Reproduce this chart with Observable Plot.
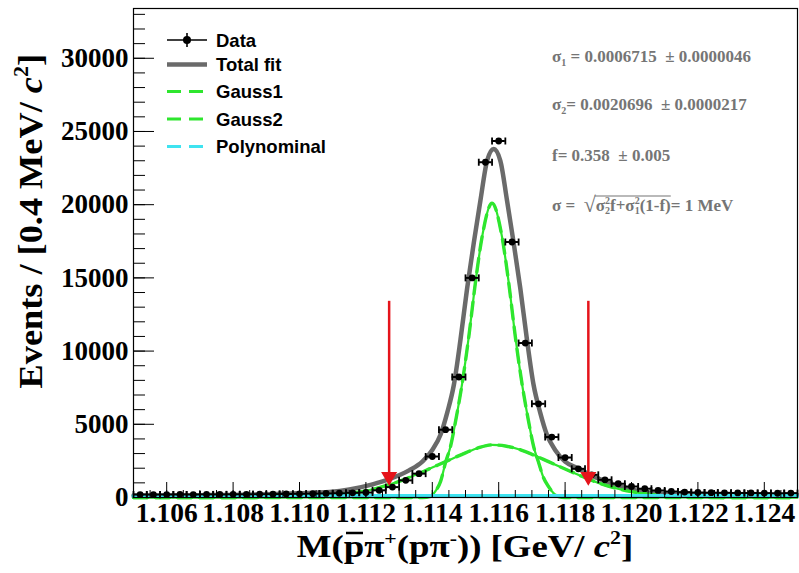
<!DOCTYPE html>
<html><head><meta charset="utf-8">
<script src="https://cdn.jsdelivr.net/npm/d3@7"></script>
<script src="https://cdn.jsdelivr.net/npm/@observablehq/plot@0.6"></script>
<style>
html,body{margin:0;padding:0;background:#fff;}
#chart svg{display:block;}
</style></head><body><div id="chart"></div>
<script>
// ---- data ----
const binCenters = [1.1052,1.1056,1.1060,1.1064,1.1068,1.1072,1.1076,1.1080,1.1084,1.1088,
  1.1092,1.1096,1.1100,1.1104,1.1108,1.1112,1.1116,1.1120,1.1124,1.1128,
  1.1132,1.1136,1.1140,1.1144,1.1148,1.1152,1.1156,1.1160,1.1164,1.1168,
  1.1172,1.1176,1.1180,1.1184,1.1188,1.1192,1.1196,1.1200,1.1204,1.1208,
  1.1212,1.1216,1.1220,1.1224,1.1228,1.1232,1.1236,1.1240,1.1244,1.1248];
const events = [200,195,200,205,200,210,205,215,215,225,
  230,240,250,260,275,290,320,340,490,710,
  1170,1630,2800,4630,8230,15000,22900,24350,17450,10550,
  6400,4130,2730,1960,1550,1210,940,750,600,480,
  410,370,340,330,320,310,310,300,290,300];

const fitX = [1.1050,1.1070,1.1090,1.1100,1.1109,1.1115,1.1122,1.1127,1.1133,1.1137,1.1140,1.11425,
  1.11445,1.11465,1.11485,1.11505,1.11525,1.11545,1.11565,1.11585,1.11605,1.11625,1.11645,1.11665,
  1.11685,1.11705,1.11725,1.11745,1.1177,1.1180,1.1184,1.1187,1.1194,1.1201,1.1209,1.1220,1.1250];
const fitY = [140,160,220,290,380,550,900,1250,1850,2450,3250,4300,
  5800,7700,10800,14300,17400,20300,23000,23800,23000,20300,17400,14300,
  10800,7700,5800,4300,3250,2450,1990,1600,950,500,260,190,150];

const gauss1X = [1.1050,1.1137,1.11395,1.1141,1.11425,1.1144,1.11455,1.1147,1.1149,1.1151,1.1153,1.1155,
  1.1158,1.1161,1.1163,1.1165,1.1167,1.1169,1.11705,1.1172,1.11735,1.1175,1.11765,1.1178,1.1180,1.1250];
const gauss1Y = [0,0,80,450,1100,2400,3500,5200,7800,11000,14700,17800,
  20100,17800,14700,11000,7800,5200,3500,2400,1350,750,300,60,0,0];

const gauss2X = [1.1050,1.1080,1.1090,1.1100,1.1105,1.1110,1.1115,1.1120,1.1125,1.1130,1.1135,1.1140,
  1.1145,1.1150,1.1154,1.1158,1.1162,1.1166,1.1170,1.1175,1.1180,1.1185,1.1190,1.1195,1.1200,1.1205,
  1.1210,1.1215,1.1220,1.1230,1.1250];
const gauss2Y = [0,0,10,40,80,150,270,450,740,1100,1550,2050,
  2550,3050,3400,3600,3520,3300,2950,2450,1950,1450,1000,650,400,230,
  120,60,25,0,0];

const polyX = [1.1050,1.1250];
const polyY = [100,100];

const cutX = [1.1127,1.1187];
const cutTop = [13400,13400];
const cutTip = [950,950];

const xTickValues = [1.106,1.108,1.110,1.112,1.114,1.116,1.118,1.120,1.122,1.124];
const yTickValues = [0,5000,10000,15000,20000,25000,30000];
const legendLabels = ["Data","Total fit","Gauss1","Gauss2","Polynominal"];
const paramValues = ["0.0006715","0.0000046","0.0020696","0.0000217","0.358","0.005"];

// ---- layout / style ----
const W = 799, H = 573, mL = 133, mR = 2, mT = 8, mB = 76;
const xDomain = [1.105, 1.125], yDomain = [0, 33400];
const pxX = (xDomain[1]-xDomain[0])/(W-mL-mR);
const pxY = (yDomain[1]-yDomain[0])/(H-mT-mB);
const GREEN = "#2ee62e", CYAN = "#3fe3f0", GRAY = "#6a6a6a", RED = "#e5141b";
const SERIF = "Liberation Serif, Times New Roman, serif";
const SANS = "Liberation Sans, Arial, sans-serif";

const data = binCenters.map((m,i)=>({m, n: events[i]}));
const fit = fitX.map((x,i)=>({x, y: fitY[i]}));
const g1 = gauss1X.map((x,i)=>({x, y: gauss1Y[i]}));
const g2 = gauss2X.map((x,i)=>({x, y: gauss2Y[i]}));
const poly = polyX.map((x,i)=>({x, y: polyY[i]}));
const cuts = cutX.map((x,i)=>({x, top: cutTop[i], tip: cutTip[i]}));
const halfBin = 0.0002;
const xMinor = d3.range(0, 41).map(k => xDomain[0] + k*0.0005);
const yMinor = d3.range(0, 34).map(k => k*1000);

const vbar = {draw(ctx, size){ const h = Math.sqrt(size/Math.PI); ctx.moveTo(0,-h); ctx.lineTo(0,h); }};

const plot = Plot.plot({
  width: W, height: H,
  marginLeft: mL, marginRight: mR, marginTop: mT, marginBottom: mB,
  x: {domain: xDomain, label: null},
  y: {domain: yDomain, label: null},
  style: {background: "white", fontFamily: SERIF, overflow: "visible"},
  marks: [
    Plot.line(fit, {x:"x", y:"y", stroke: GRAY, strokeWidth: 4.5, curve: "monotone-x"}),
    Plot.line(g2, {x:"x", y:"y", stroke: GREEN, strokeWidth: 2.2, curve: "monotone-x"}),
    Plot.line(g2, {x:"x", y:"y", stroke: GREEN, strokeWidth: 3.4, strokeDasharray: "14,8", curve: "monotone-x"}),
    Plot.line(g1, {x:"x", y:"y", stroke: GREEN, strokeWidth: 2.2, curve: "monotone-x"}),
    Plot.line(g1, {x:"x", y:"y", stroke: GREEN, strokeWidth: 3.4, strokeDasharray: "14,8", curve: "monotone-x"}),
    Plot.line(poly, {x:"x", y:"y", stroke: CYAN, strokeWidth: 4}),
    Plot.ruleY(data, {y:"n", x1: d=>d.m-halfBin, x2: d=>d.m+halfBin, stroke:"black", strokeWidth: 2}),
    Plot.ruleX(data, {x:"m", y1: d=>d.n-Math.sqrt(d.n), y2: d=>d.n+Math.sqrt(d.n), stroke:"black", strokeWidth: 2}),
    Plot.dot(data, {x: d=>d.m-halfBin, y:"n", symbol: vbar, r: 3.5, stroke:"black", strokeWidth: 1.8, fill:"none"}),
    Plot.dot(data, {x: d=>d.m+halfBin, y:"n", symbol: vbar, r: 3.5, stroke:"black", strokeWidth: 1.8, fill:"none"}),
    Plot.dot(data, {x:"m", y:"n", r: 3.4, fill:"black", stroke: "none"}),
    Plot.ruleX(cuts, {x:"x", y1:"tip", y2:"top", stroke: RED, strokeWidth: 2.5}),
    Plot.dot(cuts, {x:"x", y:"tip", symbol:"triangle", rotate: 180, r: 5, fill: RED, stroke: RED, dy: -7}),
    Plot.ruleX(xMinor, {x: d=>d, y1: 0, y2: 7*pxY, stroke:"black", strokeWidth: 1}),
    Plot.ruleX(xTickValues, {x: d=>d, y1: 0, y2: 15*pxY, stroke:"black", strokeWidth: 1}),
    Plot.ruleY(yMinor, {y: d=>d, x1: xDomain[0], x2: xDomain[0]+12*pxX, stroke:"black", strokeWidth: 1}),
    Plot.ruleY(yTickValues, {y: d=>d, x1: xDomain[0], x2: xDomain[0]+21*pxX, stroke:"black", strokeWidth: 1}),
    Plot.frame({stroke:"black", strokeWidth: 1.2}),
    Plot.axisX(xTickValues, {tickSize: 0, tickPadding: 5, tickFormat: d3.format(".3f"), fontSize: 27.5, fontWeight: "bold", fontFamily: SERIF, fill: "black"}),
    Plot.axisY(yTickValues, {tickSize: 0, tickPadding: 5, tickFormat: d => String(d), fontSize: 27, fontWeight: "bold", fontFamily: SERIF, fill: "black"})
  ]
});
document.getElementById("chart").appendChild(plot);

const svg = d3.select(plot);

function addSpans(text, spans){
  const nodes = [];
  for (const s of spans){
    const t = text.append("tspan").text(s.t);
    if (s.size) t.attr("font-size", s.size);
    if (s.dx != null) t.attr("dx", s.dx);
    if (s.dy != null) t.attr("dy", s.dy);
    if (s.italic) t.attr("font-style", "italic");
    nodes.push(t.node());
  }
  return nodes;
}

// ---- axis titles ----
{
  const g = svg.append("g").attr("transform", "translate(465,557) scale(1.15,1)");
  const t = g.append("text").attr("text-anchor","middle").attr("font-family", SERIF)
    .attr("font-weight","bold").attr("font-size", 32).attr("fill","black").style("white-space","pre");
  const n = addSpans(t, [
    {t:"M("}, {t:"p"}, {t:"π"}, {t:"+", size: 19, dy: -12}, {t:"(p", dy: 12}, {t:"π"}, {t:"-", size: 19, dy: -12},
    {t:")) [GeV/ ", dy: 12}, {t:"c", italic: true}, {t:"2", size: 19, dy: -13}, {t:"]", dy: 13}
  ]);
  const p = n[1];
  const x0 = p.getStartPositionOfChar(0).x, x1 = p.getEndPositionOfChar(0).x;
  g.append("line").attr("x1", x0+2).attr("x2", x1-1).attr("y1", -24).attr("y2", -24)
    .attr("stroke","black").attr("stroke-width", 2.5);
}
{
  const g = svg.append("g").attr("transform", "translate(42,54) rotate(-90) scale(1.1,1)");
  const t = g.append("text").attr("text-anchor","end").attr("font-family", SERIF)
    .attr("font-weight","bold").attr("font-size", 33).attr("fill","black").style("white-space","pre");
  addSpans(t, [{t:"Events / [0.4 MeV/ "}, {t:"c", italic: true}, {t:"2", size: 20, dy: -14}, {t:"]", dy: 14}]);
}

// ---- legend ----
{
  const rows = [40, 64.5, 91.5, 119, 146.5];
  const lg = svg.append("g").attr("text-anchor","start");
  legendLabels.forEach((lab, i) => {
    const y = rows[i];
    if (i === 0){
      lg.append("line").attr("x1",167).attr("x2",207).attr("y1",y).attr("y2",y).attr("stroke","black").attr("stroke-width",1.6);
      lg.append("line").attr("x1",187).attr("x2",187).attr("y1",y-7).attr("y2",y+7).attr("stroke","black").attr("stroke-width",1.6);
      lg.append("circle").attr("cx",187).attr("cy",y).attr("r",4).attr("fill","black");
    } else if (i === 1){
      lg.append("line").attr("x1",167).attr("x2",207).attr("y1",y).attr("y2",y).attr("stroke",GRAY).attr("stroke-width",4.5);
    } else {
      lg.append("line").attr("x1",167).attr("x2",207).attr("y1",y).attr("y2",y)
        .attr("stroke", i === 4 ? CYAN : GREEN).attr("stroke-width",3.2).attr("stroke-dasharray","14,8");
    }
    lg.append("text").attr("x",216).attr("y",y+6.5).attr("text-anchor","start").attr("font-family",SANS).attr("font-weight","bold")
      .attr("font-size",18.5).attr("fill","black").text(lab);
  });
}

// ---- fit parameters ----
{
  const pg = svg.append("g").attr("text-anchor","start").attr("font-family", SERIF).attr("font-weight","bold").attr("fill","#757575").attr("font-size", 17);
  const mk = (y) => pg.append("text").attr("x", 552).attr("y", y).attr("text-anchor","start").style("white-space","pre");
  addSpans(mk(62), [{t:"σ"}, {t:"1", size: 10, dy: 4}, {t:" = " + paramValues[0] + "  ± " + paramValues[1], dy: -4}]);
  addSpans(mk(110), [{t:"σ"}, {t:"2", size: 10, dy: 4}, {t:"= " + paramValues[2] + "  ± " + paramValues[3], dy: -4}]);
  addSpans(mk(161), [{t:"f= " + paramValues[4] + "  ± " + paramValues[5]}]);
  const g = pg.append("g").attr("transform","translate(552,211)");
  const t = g.append("text").attr("text-anchor","start").style("white-space","pre");
  const n = addSpans(t, [
    {t:"σ =  "}, {t:"√", size: 22, dy: 1}, {t:"σ", dy: -1}, {t:"2", size: 10, dy: -7}, {t:"2", size: 10, dx: -5, dy: 10},
    {t:"f+σ", dy: -3}, {t:"2", size: 10, dy: -7}, {t:"1", size: 10, dx: -5, dy: 10}, {t:"(1-f)", dy: -3}, {t:"= 1 MeV"}
  ]);
  const xs = n[1].getEndPositionOfChar(0).x, xe = n[8].getEndPositionOfChar(4).x;
  g.append("line").attr("x1", xs-1).attr("x2", xe).attr("y1", -15).attr("y2", -15).attr("stroke","#757575").attr("stroke-width",1.2);
}
</script></body></html>
